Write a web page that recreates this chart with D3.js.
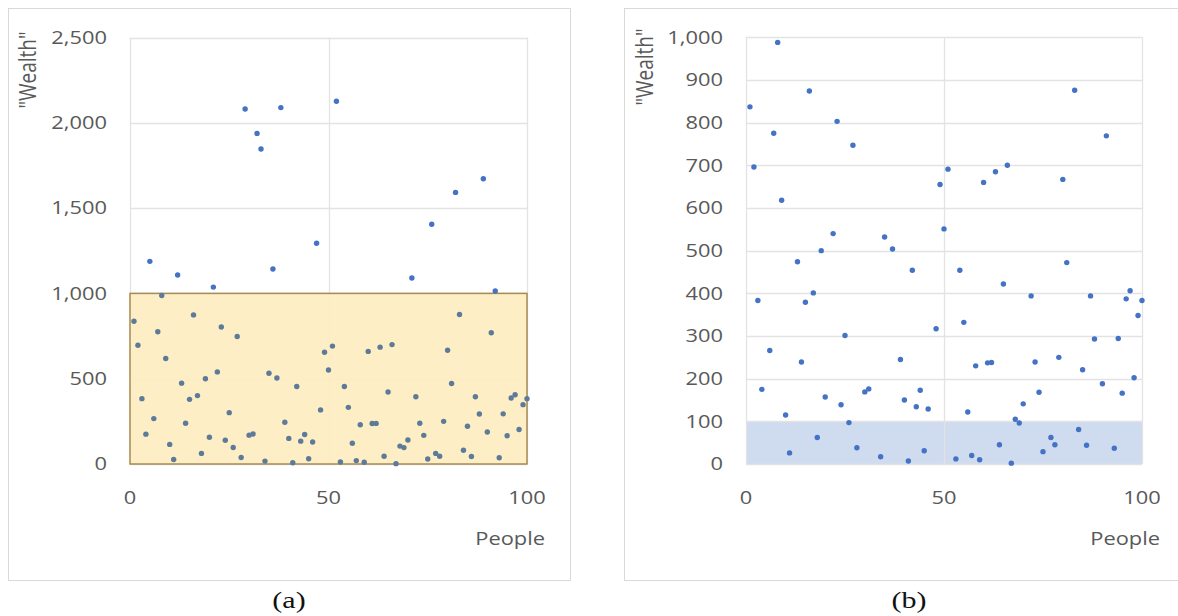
<!DOCTYPE html>
<html>
<head>
<meta charset="utf-8">
<script src="https://cdn.jsdelivr.net/npm/d3@7"></script>
<style>
  html, body { margin: 0; padding: 0; background: #fff; }
  svg { display: block; }
  text { font-family: "Open Sans", "Noto Sans", sans-serif; }
</style>
</head>
<body>
<svg id="chart" width="1178" height="616"></svg>
<script>
// People 1..100 and the wealth each one holds
const people = d3.range(1, 101);
const wealth = [
  837, 696, 383, 175, 1188, 266, 775, 988, 618, 115,
  26, 1108, 474, 239, 379, 874, 401, 62, 500, 157,
  1037, 540, 803, 139, 301, 97, 747, 38, 2081, 169,
  176, 1938, 1846, 17, 532, 1143, 504, 2089, 245, 150,
  7, 454, 134, 173, 31, 129, 1294, 317, 655, 551,
  691, 2126, 12, 454, 332, 122, 20, 230, 10, 660,
  237, 238, 685, 45, 422, 700, 2, 105, 96, 141,
  1090, 394, 239, 168, 29, 1405, 62, 45, 250, 667,
  472, 1592, 876, 81, 221, 44, 394, 293, 1672, 188,
  769, 1014, 37, 294, 166, 387, 406, 202, 348, 383
];

// Axis ticks for each panel
const xTicks = [0, 50, 100];
const yTicksA = [0, 500, 1000, 1500, 2000, 2500];
const yTicksB = [0, 100, 200, 300, 400, 500, 600, 700, 800, 900, 1000];

// Highlighted ranges: panel (a) shades wealth up to 1,000; panel (b) up to 100
const shadeA = [0, 1000];
const shadeB = [0, 100];

const captions = ["(a)", "(b)"];
const yTitle = "\"Wealth\"";
const xTitle = "People";

const svg = d3.select("#chart");
const fmt = d3.format(",");
const SX = 1.25;              // horizontal stretch applied to the lettering
const gridColor = "#e3e3e3";
const labelColor = "#595959";
const dotColor = "#4472c4";

const points = people.map((p, i) => ({ p, w: wealth[i] }));

function label(parent, x, y, str, opts = {}) {
  const g = parent.append("g")
    .attr("transform", `translate(${x},${y}) scale(${SX},1)` + (opts.rotate ? ` rotate(${opts.rotate})` : ""));
  return g.append("text")
    .attr("text-anchor", opts.anchor || "middle")
    .attr("font-size", opts.size || 17.5)
    .attr("fill", opts.color || labelColor)
    .style("font-family", opts.family || null)
    .text(str);
}

function panel(cfg) {
  const g = svg.append("g");

  // panel frame
  g.append("rect")
    .attr("x", cfg.frame[0] + 0.5).attr("y", cfg.frame[1] + 0.5)
    .attr("width", cfg.frame[2]).attr("height", cfg.frame[3])
    .attr("fill", "none").attr("stroke", "#d9d9d9").attr("stroke-width", 1);

  const x = d3.scaleLinear().domain([0, 100]).range(cfg.xRange);
  const y = d3.scaleLinear().domain([0, cfg.yMax]).range(cfg.yRange);

  // gridlines
  g.append("g").selectAll("line.h").data(cfg.yTicks).join("line")
    .attr("x1", x(0)).attr("x2", x(100))
    .attr("y1", d => Math.round(y(d)) + 0.5).attr("y2", d => Math.round(y(d)) + 0.5)
    .attr("stroke", gridColor).attr("stroke-width", 1.3);
  g.append("g").selectAll("line.v").data(xTicks).join("line")
    .attr("x1", d => Math.round(x(d)) + 0.5).attr("x2", d => Math.round(x(d)) + 0.5)
    .attr("y1", y(cfg.yMax)).attr("y2", y(0))
    .attr("stroke", gridColor).attr("stroke-width", 1.3);

  // y tick labels
  cfg.yTicks.forEach(t => {
    label(g, cfg.yLabelX, y(t) + 6.2, fmt(t), { anchor: "end" });
  });
  // x tick labels
  xTicks.forEach(t => {
    label(g, x(t), cfg.xLabelY, fmt(t));
  });

  // axis titles
  label(g, cfg.yTitlePos[0], cfg.yTitlePos[1], yTitle, { rotate: -90, size: 19 });
  label(g, cfg.xTitlePos[0], cfg.xTitlePos[1], xTitle, { anchor: "end", size: 17.5 });

  // caption under the panel
  label(svg, cfg.captionX, 608, cfg.caption,
    { size: 24, color: "#111", family: "'Liberation Serif', 'DejaVu Serif', serif" });

  return { g, x, y };
}

// ---- panel (a): full range, shaded box covers wealth 0..1,000 ----
const A = panel({
  frame: [8, 8, 562, 572],
  xRange: [130, 527], yRange: [464, 37.5], yMax: 2500,
  yTicks: yTicksA, yLabelX: 107, xLabelY: 503.5,
  yTitlePos: [36, 70], xTitlePos: [545, 545],
  captionX: 289, caption: captions[0]
});

A.g.append("rect")
  .attr("x", A.x(0)).attr("y", A.y(shadeA[1]))
  .attr("width", A.x(100) - A.x(0)).attr("height", A.y(shadeA[0]) - A.y(shadeA[1]))
  .attr("fill", "#fdecbf").attr("fill-opacity", 0.9)
  .attr("stroke", "#a68b52").attr("stroke-width", 1.5);

A.g.append("g").selectAll("circle").data(points).join("circle")
  .attr("cx", d => A.x(d.p)).attr("cy", d => A.y(d.w)).attr("r", 2.7)
  .attr("fill", d => d.w <= shadeA[1] ? "#5d7b98" : dotColor);

// ---- panel (b): zoomed to 0..1,000, band shades wealth 0..100 ----
const B = panel({
  frame: [624, 8, 600, 572],
  xRange: [746, 1142], yRange: [464, 37.3], yMax: 1000,
  yTicks: yTicksB, yLabelX: 723, xLabelY: 503.5,
  yTitlePos: [653, 67], xTitlePos: [1160, 545],
  captionX: 909, caption: captions[1]
});

B.g.insert("rect", ":first-child + g")
  .attr("x", B.x(0)).attr("y", B.y(shadeB[1]))
  .attr("width", B.x(100) - B.x(0)).attr("height", B.y(shadeB[0]) - B.y(shadeB[1]))
  .attr("fill", "#cfdbee");

B.g.append("g").selectAll("circle").data(points.filter(d => d.w <= 1000)).join("circle")
  .attr("cx", d => B.x(d.p)).attr("cy", d => B.y(d.w)).attr("r", 2.7)
  .attr("fill", dotColor);
</script>
</body>
</html>
